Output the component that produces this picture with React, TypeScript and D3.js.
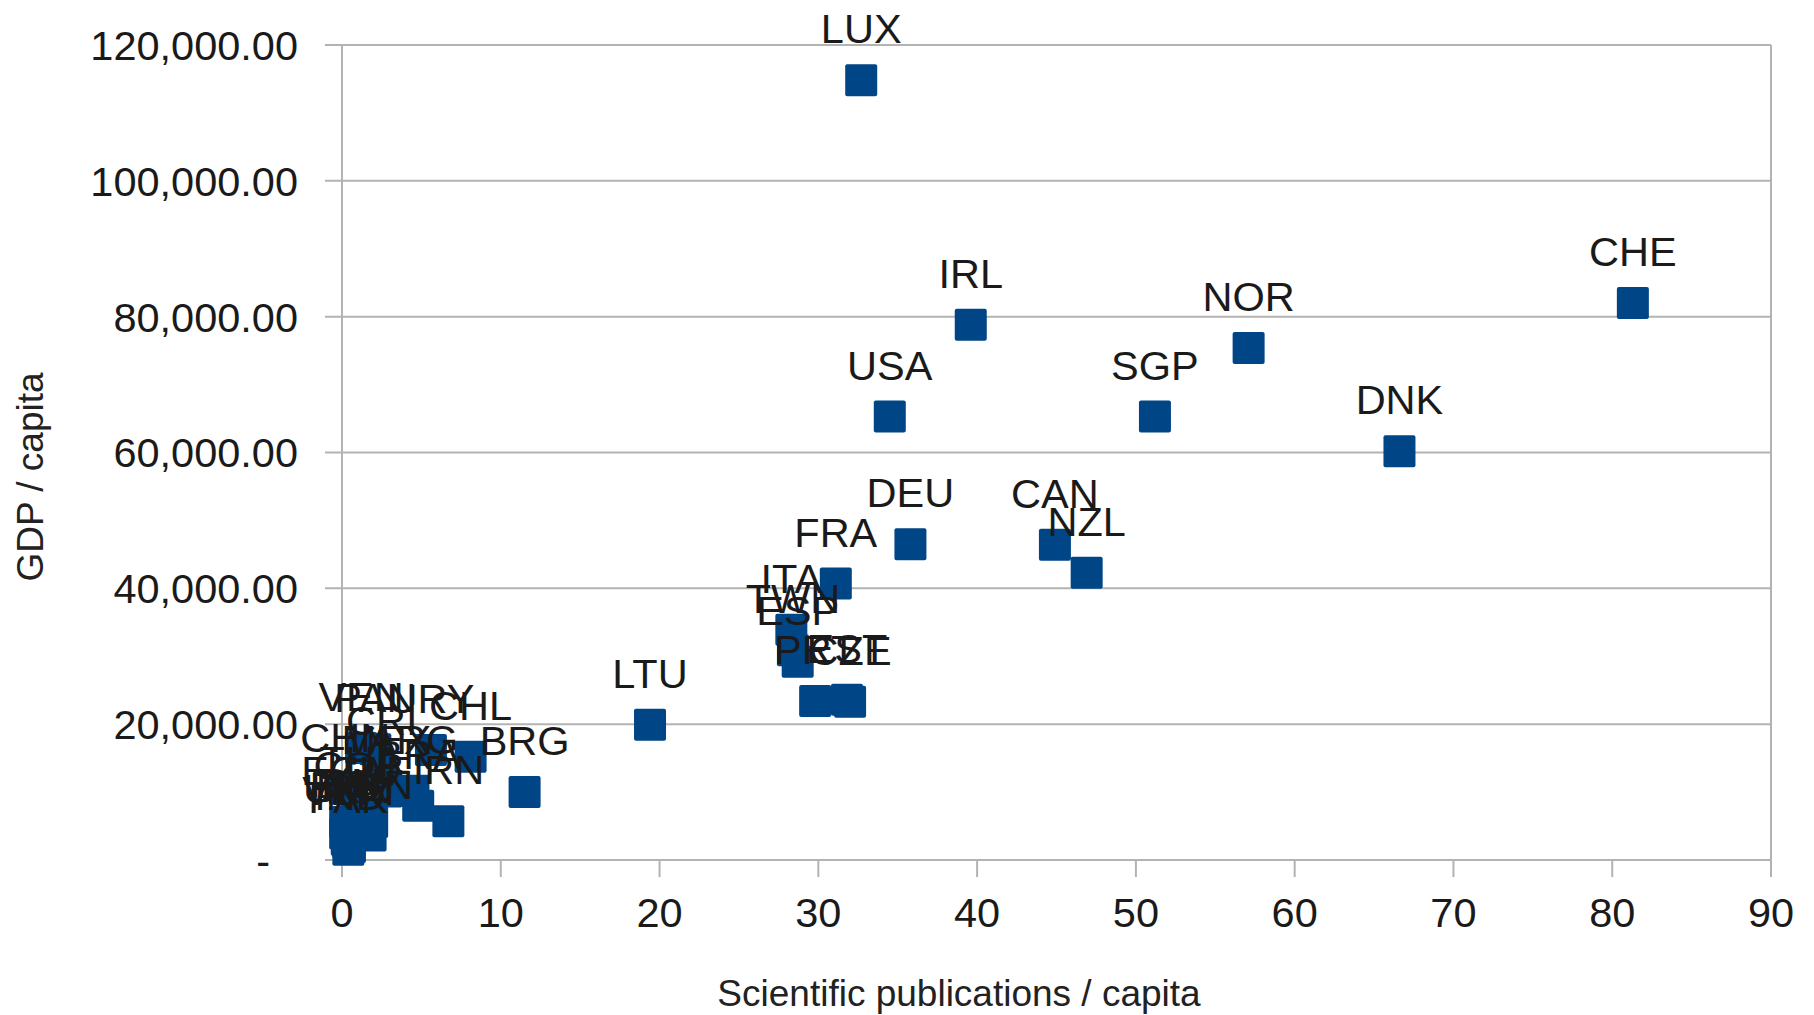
import * as d3 from 'd3';

// ─── Datos: publicaciones científicas vs PIB per cápita ─────────────────────
const countries = [
  'LUX', 'CHE', 'IRL', 'NOR', 'USA', 'SGP', 'DNK', 'DEU', 'CAN', 'NZL',
  'FRA', 'ITA', 'TWN', 'ESP', 'PRT', 'EST', 'CZE', 'LTU', 'BRG', 'CHL',
  'URY', 'PAN', 'VEN', 'CRI', 'CHN', 'MEX', 'ARG', 'BRA', 'IRN', 'THA',
  'COL', 'ZAF', 'ECU', 'TUN', 'EGY', 'PHL', 'UKR', 'IDN', 'VNM', 'IND', 'PAK',
];
const pubsPerCapita = [
  32.7, 81.3, 39.6, 57.1, 34.5, 51.2, 66.6, 35.8, 44.9, 46.9,
  31.1, 28.3, 28.4, 28.7, 29.8, 31.8, 32.0, 19.4, 11.5, 8.1,
  5.6, 2.1, 1.2, 2.5, 0.2, 2.8, 4.5, 4.8, 6.7, 1.2,
  0.9, 1.9, 0.2, 1.8, 1.1, 0.5, 0.3, 0.2, 0.4, 0.5, 0.4,
];
const gdpPerCapita = [
  114800, 82000, 78800, 75400, 65300, 65300, 60200, 46500, 46400, 42300,
  40700, 33900, 30900, 29200, 23400, 23600, 23300, 19900, 10000, 15200,
  16200, 16300, 16500, 13000, 10500, 10100, 10200, 8000, 5700, 7000,
  6300, 5600, 5600, 3600, 3700, 3200, 3000, 3900, 2600, 1900, 1500,
];
const xTicks = [0, 10, 20, 30, 40, 50, 60, 70, 80, 90];
const yTicks = [0, 20000, 40000, 60000, 80000, 100000, 120000];

const W = 1814;
const H = 1015;
const FONT = '"Liberation Sans", Arial, sans-serif';
const GRID = '#b3b3b3';
const BLUE = '#004586';
const FS = 41.5;

export default function App() {
  const x = d3.scaleLinear().domain([0, 90]).range([342, 1771]);
  const y = d3.scaleLinear().domain([0, 120000]).range([860, 45]);
  const fmt = d3.format(',.2f');
  const size = 32;

  const points = countries.map((c, i) => ({
    name: c,
    px: x(pubsPerCapita[i]),
    py: y(gdpPerCapita[i]),
  }));

  const [x0, x1] = x.range();
  const [y0, y1] = y.range();

  return (
    <div style={{ position: 'absolute', left: 0, top: 0 }}>
      <svg width={W} height={H} style={{ display: 'block', background: '#fff' }}>
        {/* Rejilla horizontal + marcas del eje Y */}
        {yTicks.map(t => (
          <g key={t}>
            <line x1={x0 - 17} x2={x1} y1={y(t)} y2={y(t)} stroke={GRID} strokeWidth={2} />
            <text
              x={t === 0 ? 270 : 298}
              y={y(t)}
              dy="0.36em"
              textAnchor="end"
              fontFamily={FONT}
              fontSize={FS}
              fill="#1a1a1a"
            >
              {t === 0 ? '-' : fmt(t)}
            </text>
          </g>
        ))}

        {/* Marco del área del gráfico */}
        <line x1={x0} x2={x0} y1={y1} y2={y0} stroke={GRID} strokeWidth={2} />
        <line x1={x1} x2={x1} y1={y1} y2={y0} stroke={GRID} strokeWidth={2} />

        {/* Eje X */}
        {xTicks.map(t => (
          <g key={t}>
            <line x1={x(t)} x2={x(t)} y1={y0} y2={y0 + 17} stroke={GRID} strokeWidth={2} />
            <text
              x={x(t)}
              y={y0 + 67}
              textAnchor="middle"
              fontFamily={FONT}
              fontSize={FS}
              fill="#1a1a1a"
            >
              {t}
            </text>
          </g>
        ))}

        {/* Marcadores */}
        {points.map(p => (
          <rect
            key={p.name}
            x={p.px - size / 2}
            y={p.py - size / 2}
            width={size}
            height={size}
            rx={2}
            fill={BLUE}
          />
        ))}

        {/* Etiquetas de datos */}
        {points.map(p => (
          <text
            key={p.name}
            x={p.px}
            y={p.py - 37}
            textAnchor="middle"
            fontFamily={FONT}
            fontSize={FS}
            fill="#1a1a1a"
          >
            {p.name}
          </text>
        ))}

        {/* Títulos de ejes */}
        <text
          x={959}
          y={1006}
          textAnchor="middle"
          fontFamily={FONT}
          fontSize={37}
          fill="#222"
        >
          Scientific publications / capita
        </text>
        <text
          transform="translate(43,477) rotate(-90)"
          textAnchor="middle"
          fontFamily={FONT}
          fontSize={37}
          fill="#222"
        >
          GDP / capita
        </text>
      </svg>
    </div>
  );
}
